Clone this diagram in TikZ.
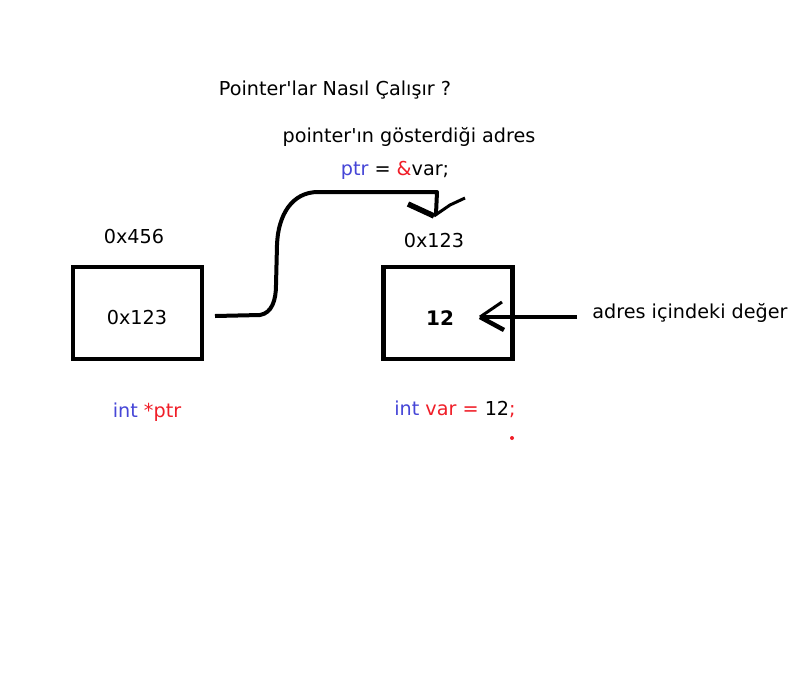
\documentclass[tikz,border=0pt]{standalone}
\usepackage{fontspec}
\setmainfont{DejaVu Sans}
\definecolor{cblue}{RGB}{70,70,215}
\definecolor{cred}{RGB}{240,30,40}
\begin{document}
\begin{tikzpicture}[x=1pt,y=-1pt,
  txt/.style={inner sep=0pt,font=\fontsize{19.2}{22}\selectfont},
  membox/.style={draw,line width=4.5pt,minimum width=129pt,minimum height=92pt,inner sep=0pt},
  wire/.style={line width=4pt,line cap=butt,line join=round}]
\useasboundingbox[fill=white] (0,0) rectangle (795,691);
\node[txt] (title) at (335,90) {Pointer\textquotesingle lar Nasıl Çalışır ?};
\node[txt] (sub) at (409,137) {pointer\textquotesingle ın gösterdiği adres};
\node[txt] (assign) at (395,170) {\textcolor{cblue}{ptr} = \textcolor{cred}{\&}var;};
\node[membox] (pbox) at (137.5,313) {};
\node[txt] (pval) at (137,318) {0x123};
\node[txt] (paddr) at (134,237) {0x456};
\node[membox] (vbox) at (448,313) {};
\node[txt,font=\fontsize{20}{22}\selectfont\bfseries] (vval) at (440,318) {12};
\node[txt] (vaddr) at (434,241) {0x123};
\node[txt] (pdecl) at (147,412) {\textcolor{cblue}{int} \textcolor{cred}{*ptr}};
\node[txt] (vdecl) at (455,409) {\textcolor{cblue}{int} \textcolor{cred}{var =} 12\textcolor{cred}{;}};
\node[txt] (vlabel) at (690,313) {adres içindeki değer};
\fill[cred] (512,438) circle (2pt);
% curved pointer connector
\coordinate (c0) at (215,316);
\coordinate (tip) at (434,216);
\draw[wire] (c0) -- (260,315) .. controls (272,313) and (276,300) .. (276,285)
  -- (277,245) .. controls (278,215) and (292,192) .. (318,192) -- (437,192) -- (436,214);
\draw[line width=5.5pt,line join=miter] (408,204) -- (tip);
\draw[line width=3pt,line join=round] (tip) -- (450,205) -- (465,198);
% value arrow
\coordinate (a0) at (577,317);
\coordinate (atip) at (480,317);
\draw[line width=4pt] (a0) -- (atip);
\draw[line width=3pt] (502,302) -- (atip);
\draw[line width=4.5pt] (atip) -- (504,330);
\end{tikzpicture}
\end{document}
